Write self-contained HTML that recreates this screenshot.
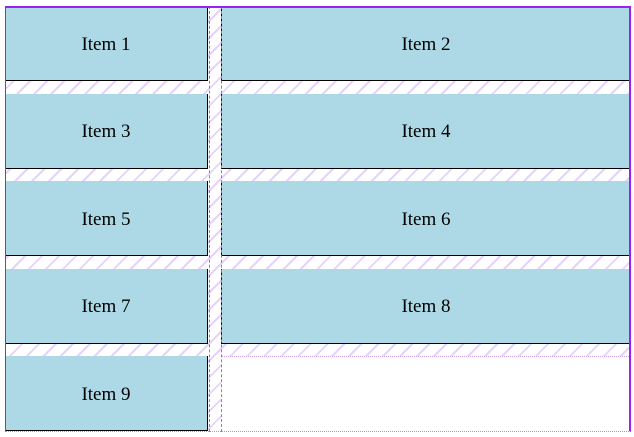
<!DOCTYPE html>
<html><head><style>
html,body{margin:0;padding:0;background:#fff;width:634px;height:437px;overflow:hidden}
.g{position:absolute;left:5px;top:6px;width:626px;height:425px;display:grid;grid-template-columns:203px 410px;grid-template-rows:repeat(5,75px);gap:12.5px 13px;
background:repeating-linear-gradient(135deg,#fff 0 10px,#e6d2fb 10px 12px);}
.i{background:#add8e6;border:1px solid #000;box-sizing:border-box;display:flex;align-items:center;justify-content:center;font-family:"Liberation Serif",serif;font-size:19px;color:#000;padding-top:3px;border-top:none}
.i.l{border-left:none}
.o{position:absolute;left:5px;top:6px;width:626px;height:426px;box-sizing:border-box;border:1px dotted #b98af0;border-top:2px solid #9a20f5;border-left:1px solid #9a20f5;border-right:2px solid #9a20f5;pointer-events:none}
.e{background:#fff;border-top:1px dotted #c89cf5}
.v{position:absolute;top:6px;height:426px;border-left:1px dashed #b060f0}
</style></head><body>
<div class="g">
<div class="i l">Item 1</div><div class="i">Item 2</div>
<div class="i l">Item 3</div><div class="i">Item 4</div>
<div class="i l">Item 5</div><div class="i">Item 6</div>
<div class="i l">Item 7</div><div class="i">Item 8</div>
<div class="i l">Item 9</div><div class="e"></div>
</div>
<div class="v" style="left:209px"></div>
<div class="v" style="left:221px"></div>
<div class="o"></div>
</body></html>
